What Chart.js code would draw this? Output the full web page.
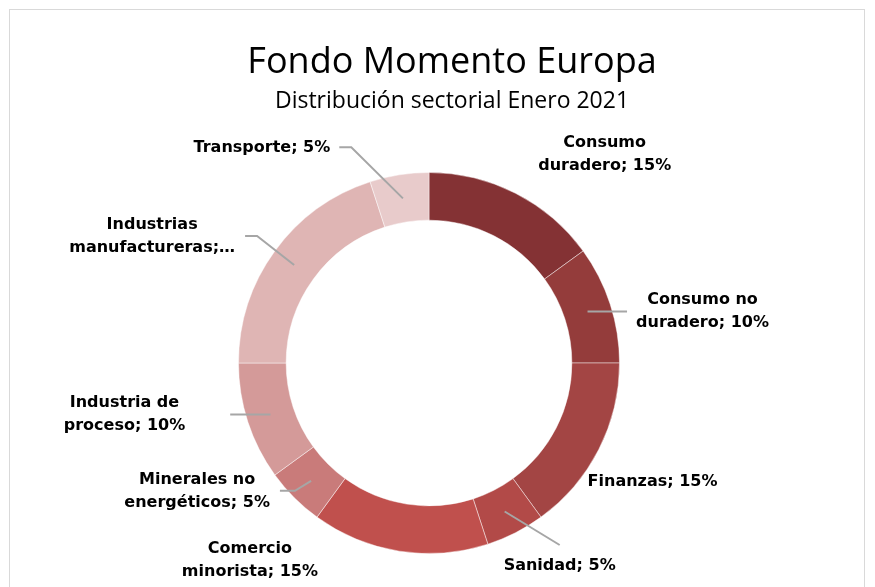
<!DOCTYPE html>
<html>
<head>
<meta charset="utf-8">
<script src="https://cdn.jsdelivr.net/npm/chart.js@4/dist/chart.umd.min.js"></script>
<style>
  body { margin: 0; background: #fff; }
  #wrap { position: relative; width: 875px; height: 587px; overflow: hidden; }
  #frame {
    position: absolute; left: 9px; top: 9px; width: 854px; height: 620px;
    border: 1px solid #d9d9d9;
  }
  #sectorChart { position: absolute; left: 0; top: 0; }
</style>
</head>
<body>
<div id="wrap">
  <div id="frame"></div>
  <canvas id="sectorChart" width="875" height="587"></canvas>
</div>
<script>
const TITLE = "Fondo Momento Europa";
const SUBTITLE = "Distribución sectorial Enero 2021";

const sectors = [
  "Consumo duradero",
  "Consumo no duradero",
  "Finanzas",
  "Sanidad",
  "Comercio minorista",
  "Minerales no energéticos",
  "Industria de proceso",
  "Industrias manufactureras",
  "Transporte",
];
const weights = [15, 10, 15, 5, 15, 5, 10, 20, 5];

// label text as shown (Excel wraps / truncates them)
const labelLines = [
  ["Consumo", "duradero; 15%"],
  ["Consumo no", "duradero; 10%"],
  ["Finanzas; 15%"],
  ["Sanidad; 5%"],
  ["Comercio", "minorista; 15%"],
  ["Minerales no", "energéticos; 5%"],
  ["Industria de", "proceso; 10%"],
  ["Industrias", "manufactureras;…"],
  ["Transporte; 5%"],
];

const sliceColors = [
  "#843234", "#943c3b", "#a34544", "#b24a48", "#c0504d",
  "#c97b7a", "#d49a99", "#dfb5b4", "#e8cbcb",
];

// where each label sits relative to its slice (dx, dy from slice centre)
const labelLayout = [
  { dx: 100, dy: -60, leader: null },
  { dx: 115, dy: 0, leader: "side", gap: 9, elbow: 0 },
  { dx: 75, dy: 43, leader: null },
  { dx: 55, dy: 54, leader: "below", gap: 9 },
  { dx: -153, dy: 33, leader: null },
  { dx: -114, dy: 10, leader: "side", gap: 10, elbow: 15 },
  { dx: -146, dy: 0, leader: "side", gap: 45, elbow: 0 },
  { dx: -142, dy: -29, leader: "side", gap: 10, elbow: 12 },
  { dx: -141, dy: -51, leader: "side", gap: 9, elbow: 12 },
];

const LABEL_FONT = "bold 16px 'DejaVu Sans'";
const LINE_H = 23;

const titlePlugin = {
  id: "titles",
  afterDraw(chart) {
    const ctx = chart.ctx;
    ctx.save();
    ctx.fillStyle = "#000";
    ctx.textAlign = "center";
    ctx.textBaseline = "alphabetic";
    ctx.font = "36px 'Open Sans'";
    ctx.fillText(TITLE, 452, 73);
    ctx.font = "23px 'Open Sans'";
    ctx.fillText(SUBTITLE, 452, 108);
    ctx.restore();
  },
};

const labelPlugin = {
  id: "sliceLabels",
  afterDatasetsDraw(chart) {
    const ctx = chart.ctx;
    const meta = chart.getDatasetMeta(0);
    ctx.save();
    ctx.font = LABEL_FONT;
    meta.data.forEach((arc, i) => {
      const p = arc.getProps(["x", "y", "startAngle", "endAngle", "innerRadius", "outerRadius"], true);
      const mid = (p.startAngle + p.endAngle) / 2;
      const r = (p.innerRadius + p.outerRadius) / 2;
      const ax = p.x + Math.cos(mid) * r;
      const ay = p.y + Math.sin(mid) * r;
      const lay = labelLayout[i];
      const lines = labelLines[i];
      const cx = ax + lay.dx;
      const cy = ay + lay.dy;
      const w = Math.max(...lines.map((t) => ctx.measureText(t).width));
      const h = lines.length * LINE_H;

      if (lay.leader) {
        ctx.strokeStyle = "#a6a6a6";
        ctx.lineWidth = 2;
        ctx.beginPath();
        ctx.moveTo(ax, ay);
        if (lay.leader === "side") {
          const side = cx > ax ? -1 : 1;
          const ex = cx + side * (w / 2 + lay.gap);
          if (lay.elbow) ctx.lineTo(ex + side * lay.elbow, cy);
          ctx.lineTo(ex, cy);
        } else {
          ctx.lineTo(cx, cy - h / 2 - lay.gap);
        }
        ctx.stroke();
      }

      ctx.fillStyle = "#000";
      ctx.textAlign = "center";
      ctx.textBaseline = "middle";
      lines.forEach((t, k) => {
        ctx.fillText(t, cx, cy - h / 2 + LINE_H * (k + 0.5));
      });
    });
    ctx.restore();
  },
};

new Chart(document.getElementById("sectorChart"), {
  type: "doughnut",
  data: {
    labels: sectors,
    datasets: [{
      data: weights,
      backgroundColor: sliceColors,
      borderColor: "rgba(255,255,255,0.45)",
      borderWidth: 1,
      hoverOffset: 0,
    }],
  },
  options: {
    responsive: false,
    animation: false,
    cutout: "75%",
    layout: { padding: { top: 172, bottom: 33, left: 0, right: 17 } },
    plugins: {
      legend: { display: false },
      title: { display: false },
      tooltip: { enabled: false },
    },
  },
  plugins: [titlePlugin, labelPlugin],
});
</script>
</body>
</html>
